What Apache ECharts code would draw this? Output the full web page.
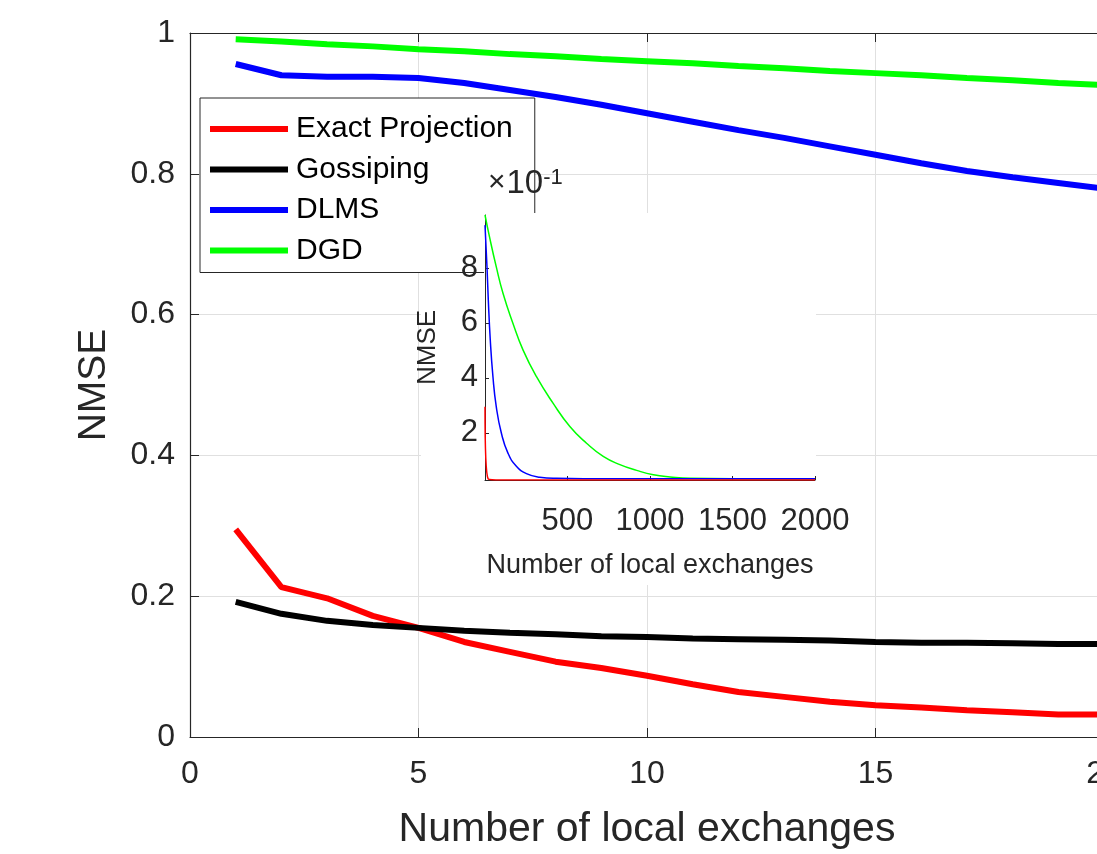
<!DOCTYPE html>
<html>
<head>
<meta charset="utf-8">
<script src="https://cdn.jsdelivr.net/npm/echarts@6/dist/echarts.min.js"></script>
<style>
html, body { margin: 0; padding: 0; background: #fff; overflow: hidden; }
#chart { width: 1097px; height: 854px; }
</style>
</head>
<body>
<div id="chart"></div>
<script>
// main plot: NMSE vs number of local exchanges (1..20)
const exchanges = [1, 2, 3, 4, 5, 6, 7, 8, 9, 10, 11, 12, 13, 14, 15, 16, 17, 18, 19, 20];
const exactProj = [0.295, 0.213, 0.197, 0.172, 0.155, 0.135, 0.121, 0.107, 0.098, 0.087,
                   0.075, 0.064, 0.057, 0.050, 0.045, 0.042, 0.038, 0.035, 0.032, 0.032];
const gossiping = [0.192, 0.175, 0.165, 0.159, 0.155, 0.151, 0.148, 0.146, 0.143, 0.142,
                   0.140, 0.139, 0.138, 0.137, 0.135, 0.134, 0.134, 0.133, 0.132, 0.132];
const dlms      = [0.956, 0.940, 0.938, 0.938, 0.936, 0.929, 0.919, 0.909, 0.898, 0.886,
                   0.874, 0.862, 0.851, 0.839, 0.827, 0.815, 0.804, 0.795, 0.787, 0.779];
const dgd       = [0.991, 0.988, 0.984, 0.981, 0.977, 0.974, 0.970, 0.967, 0.963, 0.960,
                   0.957, 0.953, 0.950, 0.946, 0.943, 0.940, 0.936, 0.933, 0.929, 0.926];

// inset: long run up to 2000 exchanges (values are NMSE, axis shows x10^-1)
const insetRedX   = [1, 20, 100, 2000];
const insetRedY   = [0.295, 0.032, 0.028, 0.028];
const insetBlueX  = [1, 13, 21, 33, 49, 69, 100, 140, 191, 252, 332, 434, 600, 1000, 2000];
const insetBlueY  = [0.956, 0.805, 0.684, 0.538, 0.405, 0.296, 0.199, 0.126, 0.078, 0.051,
                     0.038, 0.034, 0.033, 0.033, 0.033];
const insetGreenX = [1, 28, 69, 110, 170, 231, 312, 413, 515, 616, 717, 818, 920, 1021, 1122, 1244, 1500, 2000];
const insetGreenY = [0.993, 0.914, 0.805, 0.708, 0.599, 0.502, 0.405, 0.308, 0.223, 0.162,
                     0.114, 0.084, 0.063, 0.047, 0.039, 0.034, 0.033, 0.033];

const insetXTicks = [500, 1000, 1500, 2000];
const insetYTicks = [0.2, 0.4, 0.6, 0.8];

const names = ['Exact Projection', 'Gossiping', 'DLMS', 'DGD'];
const colors = ['#ff0000', '#000000', '#0000ff', '#00ff00'];

const FONT = '"Liberation Sans", Arial, Helvetica, sans-serif';
const INK = '#262626';

function pairs(xs, ys) {
    return xs.map((x, i) => [x, ys[i]]);
}

const chart = echarts.init(document.getElementById('chart'));

const mainData = [exactProj, gossiping, dlms, dgd];
const insetData = [
    pairs(insetRedX, insetRedY),
    null,
    pairs(insetBlueX, insetBlueY),
    pairs(insetGreenX, insetGreenY)
];

let series = [];
mainData.forEach((d, i) => {
    series.push({
        name: names[i],
        type: 'line',
        xAxisIndex: 0,
        yAxisIndex: 0,
        data: pairs(exchanges, d),
        symbol: 'none',
        lineStyle: { color: colors[i], width: 6 },
        itemStyle: { color: colors[i] },
        z: 2,
        animation: false
    });
});
// inset lines (gossiping is not in the inset)
[3, 2, 0].forEach(i => {
    series.push({
        name: names[i] + ' (inset)',
        type: 'line',
        xAxisIndex: 2,
        yAxisIndex: 1,
        data: insetData[i],
        smooth: true,
        symbol: 'none',
        lineStyle: { color: colors[i], width: 1.5 },
        z: 12,
        silent: true,
        animation: false
    });
});

const option = {
    backgroundColor: '#ffffff',
    animation: false,
    textStyle: { fontFamily: FONT },
    legend: {
        data: names,
        orient: 'vertical',
        left: 200,
        top: 98,
        padding: [15, 22, 6, 10],
        icon: 'rect',
        itemWidth: 78,
        itemHeight: 6,
        itemGap: 8.5,
        backgroundColor: '#ffffff',
        borderColor: INK,
        borderWidth: 1,
        borderRadius: 0,
        textStyle: { fontSize: 30, color: '#000', fontFamily: FONT, lineHeight: 32, padding: [0, 0, 0, 3] },
        z: 4
    },
    grid: [
        { left: 190, top: 33, right: -7, bottom: 117, outerBoundsMode: 'none', containLabel: false },
        { left: 485, top: 215, width: 330, height: 265, z: 10, outerBoundsMode: 'none', containLabel: false }
    ],
    xAxis: [
        {
            type: 'value', gridIndex: 0, min: 0, max: 20, interval: 5,
            name: 'Number of local exchanges',
            nameLocation: 'middle', nameGap: 72,
            nameTextStyle: { fontSize: 41, color: INK, fontFamily: FONT },
            axisLine: { show: true, onZero: false, lineStyle: { color: INK, width: 1.2 } },
            axisTick: { show: true, inside: true, length: 9, lineStyle: { color: INK } },
            axisLabel: { fontSize: 32, color: INK, margin: 21, fontFamily: FONT, hideOverlap: false },
            splitLine: { show: true, lineStyle: { color: '#e0e0e0', width: 1 } }
        },
        {
            type: 'value', gridIndex: 0, position: 'top', min: 0, max: 20, interval: 5,
            axisLine: { show: true, onZero: false, lineStyle: { color: INK, width: 1.2 } },
            axisTick: { show: true, inside: true, length: 9, lineStyle: { color: INK } },
            axisLabel: { show: false },
            splitLine: { show: false }
        },
        {
            type: 'value', gridIndex: 1, min: 1, max: 2000, z: 12,
            name: 'Number of local exchanges',
            nameLocation: 'middle', nameGap: 72,
            nameTextStyle: { fontSize: 27, color: INK, fontFamily: FONT },
            axisLine: { show: true, onZero: false, lineStyle: { color: INK, width: 1 } },
            axisTick: { show: true, inside: true, length: 4, customValues: insetXTicks, lineStyle: { color: INK } },
            axisLabel: {
                fontSize: 31, color: INK, margin: 26, fontFamily: FONT,
                customValues: insetXTicks,
                formatter: v => String(v)
            },
            splitLine: { show: false }
        }
    ],
    yAxis: [
        {
            type: 'value', gridIndex: 0, min: 0, max: 1, interval: 0.2,
            name: 'NMSE',
            nameLocation: 'middle', nameGap: 76,
            nameTextStyle: { fontSize: 39, color: INK, fontFamily: FONT },
            axisLine: { show: true, lineStyle: { color: INK, width: 1.2 } },
            axisTick: { show: true, inside: true, length: 9, lineStyle: { color: INK } },
            axisLabel: { fontSize: 32, color: INK, margin: 15, fontFamily: FONT },
            splitLine: { show: true, lineStyle: { color: '#e0e0e0', width: 1 } }
        },
        {
            type: 'value', gridIndex: 1, min: 0.028, max: 0.993, z: 12,
            name: 'NMSE',
            nameLocation: 'middle', nameGap: 44,
            nameTextStyle: { fontSize: 26, color: INK, fontFamily: FONT },
            axisLine: { show: true, lineStyle: { color: INK, width: 1 } },
            axisTick: { show: true, inside: true, length: 4, customValues: insetYTicks, lineStyle: { color: INK } },
            axisLabel: {
                fontSize: 31, color: INK, margin: 7, fontFamily: FONT,
                customValues: insetYTicks,
                formatter: v => String(Math.round(v * 10))
            },
            splitLine: { show: false }
        }
    ],
    graphic: {
        elements: [
            // white backing of the inset, hides the main grid lines behind it
            { type: 'rect', z: 5, silent: true, shape: { x: 421, y: 280, width: 395, height: 305 }, style: { fill: '#ffffff' } },
            { type: 'rect', z: 5, silent: true, shape: { x: 484, y: 213, width: 332, height: 70 }, style: { fill: '#ffffff' } },
            {
                type: 'text', z: 13, left: 488, top: 167, silent: true,
                style: {
                    text: '{m|×}{b|10}{s|-1}',
                    fill: INK,
                    rich: {
                        m: { fontSize: 30, fontFamily: FONT, fill: INK, verticalAlign: 'bottom', padding: [0, 1, 2, 0] },
                        b: { fontSize: 33, fontFamily: FONT, fill: INK, verticalAlign: 'bottom' },
                        s: { fontSize: 22, fontFamily: FONT, fill: INK, verticalAlign: 'top' }
                    }
                }
            }
        ]
    },
    series: series
};

chart.setOption(option);
</script>
</body>
</html>
